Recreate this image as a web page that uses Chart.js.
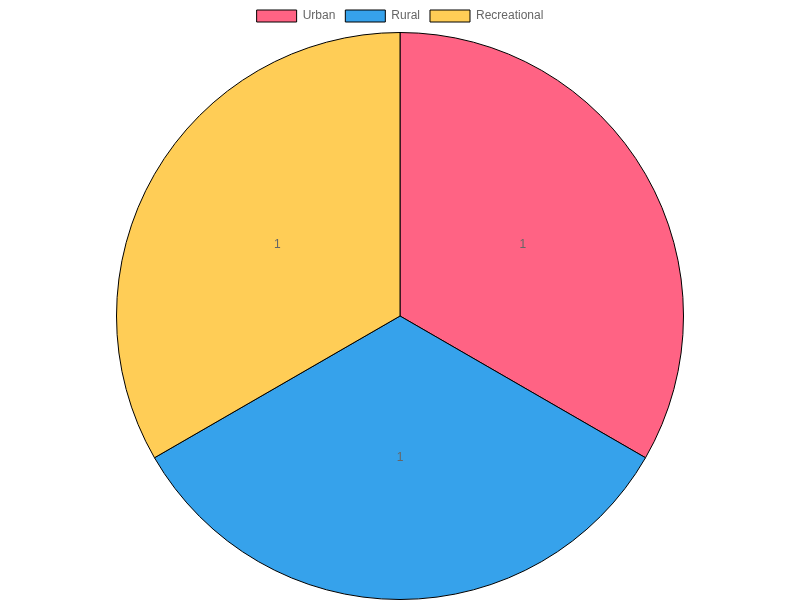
<!DOCTYPE html>
<html>
<head>
<meta charset="utf-8">
<script src="https://cdn.jsdelivr.net/npm/chart.js@4"></script>
<style>
  html, body { margin: 0; padding: 0; background: #fff; }
  #wrap { width: 800px; height: 600px; }
</style>
</head>
<body>
<div id="wrap"><canvas id="pieChart"></canvas></div>
<script>
var labels = ["Urban", "Rural", "Recreational"];
var values = [1, 1, 1];
var colors = ["#ff6384", "#36a2eb", "#ffcd56"];

// draw each slice's value at the middle of its arc
var valueLabels = {
  id: "valueLabels",
  afterDatasetsDraw(chart) {
    var ctx = chart.ctx;
    var meta = chart.getDatasetMeta(0);
    ctx.save();
    ctx.font = "12px 'Liberation Sans', Arial, sans-serif";
    ctx.fillStyle = "#666";
    ctx.textAlign = "center";
    ctx.textBaseline = "middle";
    meta.data.forEach((arc, i) => {
      var p = arc.tooltipPosition();
      ctx.fillText(String(chart.data.datasets[0].data[i]), p.x, p.y);
    });
    ctx.restore();
  }
};

Chart.defaults.font.family = "'Liberation Sans', Arial, sans-serif";

new Chart(document.getElementById("pieChart"), {
  type: "pie",
  data: {
    labels: labels,
    datasets: [{
      data: values,
      backgroundColor: colors,
      borderColor: "#000",
      borderWidth: 1
    }]
  },
  options: {
    responsive: true,
    maintainAspectRatio: false,
    animation: false,
    plugins: {
      legend: {
        position: "top",
        labels: { color: "#666" }
      },
      tooltip: { enabled: false }
    }
  },
  plugins: [valueLabels]
});
</script>
</body>
</html>
